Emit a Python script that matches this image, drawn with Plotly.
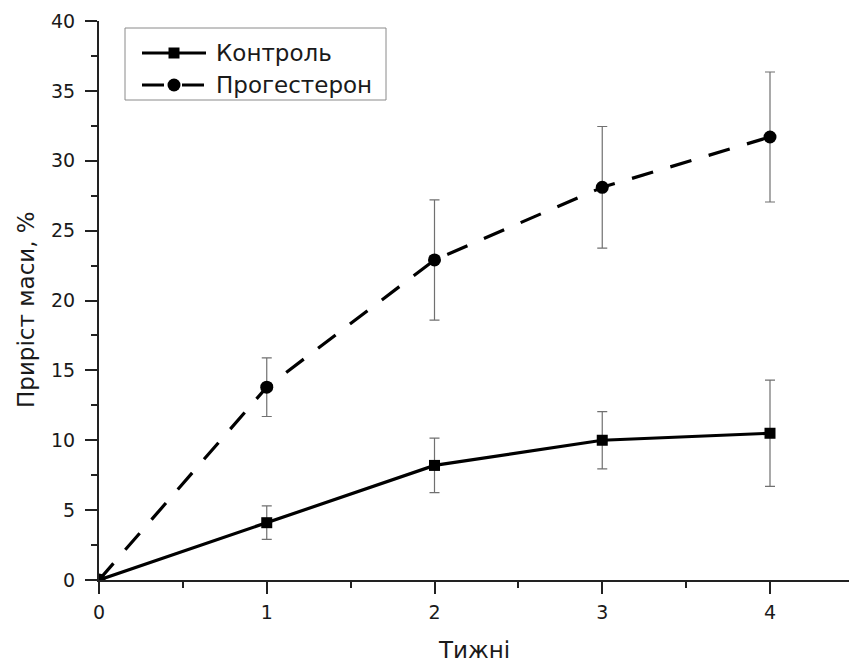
import plotly.graph_objects as go

weeks = [0, 1, 2, 3, 4]
control = [0, 4.1, 8.2, 10.0, 10.5]
control_err = [0, 1.2, 1.95, 2.05, 3.8]
progesterone = [0, 13.8, 22.9, 28.1, 31.7]
progesterone_err = [0, 2.1, 4.3, 4.35, 4.65]
series_names = ["Контроль", "Прогестерон"]
x_ticks = [0, 1, 2, 3, 4]
y_ticks = [0, 5, 10, 15, 20, 25, 30, 35, 40]

FONT = "DejaVu Sans, Liberation Sans, sans-serif"
TEXT = "#1a1a1a"
AXIS = "#222222"

# plot-area geometry (pixels) used to place the hand-built legend
W, H = 849, 665
ML, MR, MT, MB = 99, 0, 21, 85
PW, PH = W - ML - MR, H - MT - MB


def px(x):
    return (x - ML) / PW


def py(y):
    return (H - MB - y) / PH


err_style = dict(type="data", visible=True, color="#707070", thickness=1.2, width=5)

fig = go.Figure()
fig.add_trace(go.Scatter(
    x=weeks, y=control, name=series_names[0], mode="lines+markers",
    line=dict(color="black", width=3.2),
    marker=dict(symbol="square", size=11, color="black"),
    error_y=dict(array=control_err, **err_style),
    showlegend=False,
))
fig.add_trace(go.Scatter(
    x=weeks, y=progesterone, name=series_names[1], mode="lines+markers",
    line=dict(color="black", width=3.2, dash="22px,18px"),
    marker=dict(symbol="circle", size=13, color="black"),
    error_y=dict(array=progesterone_err, **err_style),
    showlegend=False,
))

axis_common = dict(
    showline=True, linecolor=AXIS, linewidth=2,
    ticks="outside", ticklen=12, tickwidth=1.5, tickcolor=AXIS,
    showgrid=False, zeroline=False,
    tickfont=dict(family=FONT, size=19, color=TEXT),
)

fig.update_xaxes(
    range=[0, PW / 167.75], tickvals=x_ticks, ticklabelstandoff=2,
    minor=dict(ticks="outside", ticklen=6, tickwidth=1.5, tickcolor=AXIS, dtick=0.5, tick0=0),
    **axis_common,
)
fig.update_yaxes(
    range=[0, 40], tickvals=y_ticks, ticklabelstandoff=6,
    minor=dict(ticks="outside", ticklen=6, tickwidth=1.5, tickcolor=AXIS, dtick=2.5, tick0=0),
    **axis_common,
)

# axis titles
fig.add_annotation(
    text="Приріст маси, %", textangle=-90, xref="paper", yref="paper",
    x=0, xshift=-(ML - 26), xanchor="center", y=py(310), yanchor="middle",
    showarrow=False, font=dict(family=FONT, size=23, color=TEXT),
)
fig.add_annotation(
    text="Тижні", xref="paper", yref="paper", x=0.5, y=0, yshift=-70,
    xanchor="center", yanchor="middle", showarrow=False,
    font=dict(family=FONT, size=23, color=TEXT),
)

# legend box
fig.add_shape(type="rect", xref="paper", yref="paper",
              x0=px(125), x1=px(386), y0=py(100), y1=py(28),
              line=dict(color="#8a8a8a", width=1), fillcolor="white", layer="above")

legend_rows = [
    (series_names[0], 53, "solid", "rect", 11),
    (series_names[1], 85, "22px,18px", "circle", 13),
]
for label, row_y, dash, shape_kind, size in legend_rows:
    fig.add_shape(type="line", xref="paper", yref="paper",
                  x0=px(142), x1=px(206), y0=py(row_y), y1=py(row_y),
                  line=dict(color="black", width=3, dash=dash), layer="above")
    half = size / 2
    fig.add_shape(type=shape_kind, xref="paper", yref="paper",
                  xsizemode="pixel", ysizemode="pixel",
                  xanchor=px(174), yanchor=py(row_y),
                  x0=-half, x1=half, y0=-half, y1=half,
                  line=dict(color="black", width=0), fillcolor="black", layer="above")
    fig.add_annotation(text=label, xref="paper", yref="paper",
                       x=px(214), y=py(row_y), xanchor="left", yanchor="middle",
                       showarrow=False, font=dict(family=FONT, size=23, color=TEXT))

fig.update_layout(
    width=W, height=H,
    margin=dict(l=ML, r=MR, t=MT, b=MB),
    plot_bgcolor="white", paper_bgcolor="white",
    showlegend=False,
)

fig.write_html("out.html")
